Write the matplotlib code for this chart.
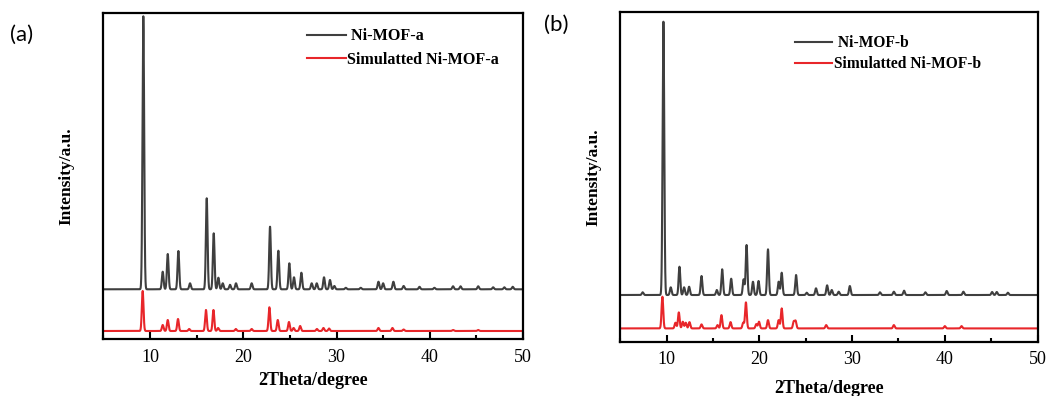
import numpy as np
import matplotlib
matplotlib.use("Agg")
import matplotlib.pyplot as plt
from matplotlib.ticker import MultipleLocator

# ---------------- data ----------------
# Panel (a): peak positions (2theta, deg) and heights (a.u., above baseline)
a_exp_pos = [9.28, 11.36, 11.9, 13.04, 14.29, 16.08, 16.83, 17.33, 17.8, 18.58,
             19.22, 20.9, 22.87, 23.76, 24.94, 25.44, 26.23, 27.34, 27.88, 28.66,
             29.3, 29.77, 31.0, 32.6, 34.5, 35.0, 36.1, 37.2, 38.9, 40.5, 42.5,
             43.3, 45.2, 46.8, 48.0, 48.9]
a_exp_h = [273.0, 17.6, 35.3, 38.3, 6.0, 91.0, 56.0, 11.6, 6.0, 4.5,
           6.0, 6.0, 62.6, 38.6, 26.0, 12.0, 16.6, 6.0, 6.0, 12.0,
           9.3, 3.3, 1.5, 1.5, 7.6, 6.0, 7.6, 3.3, 2.5, 1.5, 3.0,
           3.0, 3.0, 2.0, 2.0, 2.5]
a_sim_pos = [9.21, 11.36, 11.9, 13.0, 14.2, 16.0, 16.8, 17.3, 19.2, 20.9,
             22.8, 23.7, 24.9, 25.4, 26.1, 27.9, 28.6, 29.2, 34.5, 36.0,
             37.2, 42.5, 45.2]
a_sim_h = [40.0, 6.0, 11.0, 12.0, 2.0, 21.0, 21.0, 3.0, 2.0, 2.0,
           23.7, 11.0, 9.0, 3.0, 5.0, 2.0, 3.0, 2.5, 3.0, 3.0,
           1.5, 1.0, 1.0]
a_exp_base = 50.0
a_sim_base = 8.3

# Panel (b)
b_exp_pos = [7.4, 9.64, 10.43, 11.37, 11.87, 12.41, 13.75, 15.4, 15.98, 16.95,
             18.29, 18.61, 19.3, 19.9, 20.92, 22.07, 22.4, 23.95, 25.1, 26.1,
             27.3, 27.8, 28.55, 29.75, 33.0, 34.5, 35.6, 37.9, 40.2, 42.0,
             45.1, 45.6, 46.8]
b_exp_h = [2.7, 273.3, 7.7, 28.3, 7.7, 8.3, 19.0, 5.0, 25.7, 16.3,
           15.7, 50.0, 13.3, 14.0, 45.7, 13.3, 22.3, 20.0, 2.3, 6.7,
           9.7, 5.0, 3.3, 9.0, 2.7, 3.3, 4.3, 2.7, 4.0, 3.3,
           3.0, 3.0, 2.3]
b_sim_pos = [9.53, 10.94, 11.3, 11.73, 12.05, 12.45, 13.75, 15.48, 15.9, 16.88,
             18.25, 18.54, 19.66, 19.95, 20.92, 22.07, 22.4, 23.7, 23.9, 27.2,
             34.5, 40.0, 41.8]
b_sim_h = [31.7, 5.7, 16.0, 6.7, 5.7, 6.3, 4.0, 3.3, 13.3, 6.3,
           5.7, 26.0, 4.3, 6.7, 8.3, 8.3, 20.0, 6.7, 7.3, 3.3,
           3.3, 2.3, 2.3]
b_exp_base = 46.7
b_sim_base = 13.3

x_ticks = [10, 20, 30, 40, 50]
legend_a = [" Ni-MOF-a", "Simulatted Ni-MOF-a"]
legend_b = [" Ni-MOF-b", "Simulatted Ni-MOF-b"]
xlabel = "2Theta/degree"
ylabel = "Intensity/a.u."

# ---------------- drawing ----------------
two_theta = np.linspace(5, 50, 4501)
SIGMA = 0.09


def pattern(pos, h, base):
    p = np.asarray(pos)[:, None]
    hh = np.asarray(h)[:, None]
    return base + (hh * np.exp(-0.5 * ((two_theta[None, :] - p) / SIGMA) ** 2)).sum(axis=0)


serif = ["Liberation Serif", "DejaVu Serif"]
BLACK = "#3f3f3f"
RED = "#e8262a"

fig = plt.figure(figsize=(10.51, 3.96), dpi=100)
axA = fig.add_axes([0.0984, 0.1432, 0.3992, 0.8247])
axB = fig.add_axes([0.5903, 0.1371, 0.3969, 0.8333])

panels = [
    (axA, a_exp_pos, a_exp_h, a_exp_base, a_sim_pos, a_sim_h, a_sim_base, legend_a, 326.6,
     (0.485, 0.952), 0.45, 4.0, 21, 11.6),
    (axB, b_exp_pos, b_exp_h, b_exp_base, b_sim_pos, b_sim_h, b_sim_base, legend_b, 330.0,
     (0.418, 0.929), 0.32, 8.5, 14, 11.2),
]
for ax, ep, eh, eb, sp, sh, sb, leg, ytop, lpos, lsp, xpad, ypad, lfs in panels:
    l1, = ax.plot(two_theta, pattern(ep, eh, eb), color=BLACK, lw=1.5)
    l2, = ax.plot(two_theta, pattern(sp, sh, sb), color=RED, lw=1.5)
    ax.set_xlim(5, 50)
    ax.set_ylim(0, ytop)
    ax.set_yticks([])
    ax.set_xticks(x_ticks)
    ax.xaxis.set_minor_locator(MultipleLocator(5))
    ax.tick_params(axis="x", which="major", direction="in", length=5, width=1.5, pad=7,
                   labelsize=13)
    ax.tick_params(axis="x", which="minor", direction="in", length=3, width=1.5)
    for lab in ax.get_xticklabels():
        lab.set_family(serif)
    for s in ax.spines.values():
        s.set_linewidth(1.6)
    ax.set_xlabel(xlabel, family=serif, fontweight="bold", fontsize=13, labelpad=xpad)
    ax.set_ylabel(ylabel, family=serif, fontweight="bold", fontsize=12.5, labelpad=ypad)
    ax.legend([l1, l2], leg, loc="upper left", bbox_to_anchor=lpos, frameon=False,
              prop={"family": serif, "weight": "bold", "size": lfs},
              handlelength=2.4, handletextpad=0.1, labelspacing=lsp, borderpad=0,
              borderaxespad=0)

fig.text(10 / 1051, 1 - 35 / 396, "(a)", family=["Lato", "DejaVu Sans"], fontsize=16,
         va="center", ha="left")
fig.text(544 / 1051, 1 - 25 / 396, "(b)", family=["Lato", "DejaVu Sans"], fontsize=16,
         va="center", ha="left")

fig.savefig("out.png", dpi=100, facecolor="white")
